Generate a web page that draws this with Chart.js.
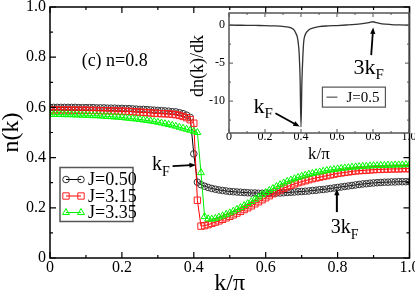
<!DOCTYPE html>
<html>
<head>
<meta charset="utf-8">
<script src="https://cdn.jsdelivr.net/npm/chart.js@4.4.1/dist/chart.umd.min.js"></script>
<style>
  html, body { margin: 0; padding: 0; background: #fff; }
  #wrap { position: relative; width: 415px; height: 296px; }
  #main { position: absolute; left: 0; top: 0; }
  #inset { position: absolute; left: 185px; top: 0; }
</style>
</head>
<body>
<div id="wrap">
  <canvas id="main" width="415" height="296"></canvas>
  <canvas id="inset" width="230" height="165"></canvas>
</div>
<script>
// k/pi grid of the main panel
const kValues = [
  0.00, 0.01, 0.02, 0.03, 0.04, 0.05, 0.06, 0.07, 0.08, 0.09,
  0.10, 0.11, 0.12, 0.13, 0.14, 0.15, 0.16, 0.17, 0.18, 0.19,
  0.20, 0.21, 0.22, 0.23, 0.24, 0.25, 0.26, 0.27, 0.28, 0.29,
  0.30, 0.31, 0.32, 0.33, 0.34, 0.35, 0.36, 0.37, 0.38, 0.39,
  0.40, 0.41, 0.42, 0.43, 0.44, 0.45, 0.46, 0.47, 0.48, 0.49,
  0.50, 0.51, 0.52, 0.53, 0.54, 0.55, 0.56, 0.57, 0.58, 0.59,
  0.60, 0.61, 0.62, 0.63, 0.64, 0.65, 0.66, 0.67, 0.68, 0.69,
  0.70, 0.71, 0.72, 0.73, 0.74, 0.75, 0.76, 0.77, 0.78, 0.79,
  0.80, 0.81, 0.82, 0.83, 0.84, 0.85, 0.86, 0.87, 0.88, 0.89,
  0.90, 0.91, 0.92, 0.93, 0.94, 0.95, 0.96, 0.97, 0.98, 0.99,
  1.00
];

// n(k), J=0.50
const nJ050 = [
  0.600, 0.600, 0.600, 0.600, 0.600, 0.600, 0.600, 0.600, 0.599, 0.599,
  0.599, 0.599, 0.599, 0.598, 0.598, 0.598, 0.597, 0.597, 0.597, 0.596,
  0.596, 0.595, 0.595, 0.594, 0.593, 0.592, 0.592, 0.591, 0.590, 0.589,
  0.588, 0.587, 0.586, 0.585, 0.583, 0.582, 0.579, 0.575, 0.569, 0.560,
  0.415, 0.302, 0.292, 0.286, 0.281, 0.277, 0.274, 0.271, 0.269, 0.267,
  0.265, 0.264, 0.263, 0.262, 0.261, 0.260, 0.259, 0.259, 0.258, 0.258,
  0.258, 0.258, 0.258, 0.259, 0.259, 0.260, 0.261, 0.262, 0.263, 0.264,
  0.265, 0.266, 0.267, 0.269, 0.270, 0.272, 0.273, 0.275, 0.277, 0.279,
  0.281, 0.283, 0.285, 0.287, 0.289, 0.291, 0.293, 0.295, 0.296, 0.298,
  0.299, 0.300, 0.301, 0.302, 0.302, 0.303, 0.303, 0.304, 0.304, 0.304,
  0.304
];

// n(k), J=3.15
const nJ315 = [
  0.590, 0.590, 0.590, 0.590, 0.590, 0.590, 0.589, 0.589, 0.589, 0.589,
  0.589, 0.588, 0.588, 0.588, 0.587, 0.587, 0.587, 0.586, 0.586, 0.585,
  0.585, 0.584, 0.584, 0.583, 0.582, 0.581, 0.580, 0.579, 0.578, 0.577,
  0.576, 0.575, 0.575, 0.574, 0.573, 0.571, 0.568, 0.564, 0.559, 0.551,
  0.537, 0.230, 0.127, 0.129, 0.133, 0.138, 0.143, 0.148, 0.154, 0.160,
  0.166, 0.172, 0.179, 0.186, 0.193, 0.200, 0.208, 0.216, 0.224, 0.232,
  0.240, 0.248, 0.256, 0.264, 0.271, 0.278, 0.284, 0.290, 0.295, 0.300,
  0.304, 0.308, 0.312, 0.316, 0.319, 0.322, 0.325, 0.328, 0.331, 0.334,
  0.337, 0.339, 0.341, 0.343, 0.345, 0.347, 0.348, 0.349, 0.350, 0.351,
  0.352, 0.353, 0.353, 0.354, 0.354, 0.355, 0.355, 0.355, 0.356, 0.356,
  0.356
];

// n(k), J=3.35
const nJ335 = [
  0.572, 0.572, 0.572, 0.572, 0.571, 0.571, 0.571, 0.570, 0.570, 0.569,
  0.569, 0.568, 0.567, 0.567, 0.566, 0.565, 0.564, 0.563, 0.562, 0.561,
  0.560, 0.558, 0.557, 0.555, 0.554, 0.552, 0.550, 0.548, 0.546, 0.544,
  0.541, 0.538, 0.535, 0.532, 0.529, 0.525, 0.521, 0.517, 0.513, 0.509,
  0.505, 0.500, 0.340, 0.165, 0.156, 0.155, 0.158, 0.163, 0.168, 0.174,
  0.180, 0.187, 0.194, 0.201, 0.209, 0.217, 0.225, 0.234, 0.243, 0.252,
  0.261, 0.269, 0.277, 0.285, 0.292, 0.299, 0.305, 0.311, 0.316, 0.321,
  0.326, 0.330, 0.334, 0.337, 0.340, 0.343, 0.346, 0.349, 0.351, 0.353,
  0.355, 0.357, 0.359, 0.360, 0.362, 0.363, 0.364, 0.365, 0.366, 0.367,
  0.368, 0.368, 0.369, 0.369, 0.370, 0.370, 0.371, 0.371, 0.371, 0.372,
  0.372
];

const seriesLabels = ['J=0.50', 'J=3.15', 'J=3.35'];
const mainTicks = [0, 0.2, 0.4, 0.6, 0.8, 1];
const mainMinor = [0.1, 0.3, 0.5, 0.7, 0.9];

// inset: dn(k)/dk for J=0.5
const insetK = [
  0, 0.05, 0.1, 0.15, 0.2, 0.25, 0.3, 0.33, 0.35, 0.36,
  0.37, 0.38, 0.385, 0.39, 0.395, 0.4, 0.405, 0.41, 0.415, 0.42,
  0.43, 0.44, 0.45, 0.47, 0.5, 0.55, 0.6, 0.65, 0.7, 0.75,
  0.78, 0.8, 0.82, 0.85, 0.9, 0.95, 1.0
];
const insetDnDk = [
  0, -0.01, -0.02, -0.04, -0.06, -0.1, -0.17, -0.26, -0.42, -0.6,
  -1.0, -1.6, -2.4, -3.8, -7.0, -13.4, -7.5, -4.3, -2.2, -1.5,
  -0.95, -0.7, -0.5, -0.35, -0.2, -0.1, -0.05, 0.02, 0.1, 0.22,
  0.35, 0.45, 0.32, 0.18, 0.08, 0.03, 0.0
];
const insetLabel = 'J=0.5';
const insetXTicks = [0, 0.2, 0.4, 0.6, 0.8, 1];
const insetXMinor = [0.1, 0.3, 0.5, 0.7, 0.9];
const insetYTicks = [-10, -5, 0];
const insetYMinor = [-12.5, -7.5, -2.5];

const FONT = "'Liberation Serif', 'Times New Roman', serif";

function subText(ctx, base, sub, x, y, size, subSize, drop) {
  ctx.font = size + 'px ' + FONT;
  ctx.textAlign = 'left';
  ctx.textBaseline = 'alphabetic';
  ctx.fillText(base, x, y);
  const w = ctx.measureText(base).width;
  ctx.font = subSize + 'px ' + FONT;
  ctx.fillText(sub, x + w, y + drop);
}

function arrow(ctx, x1, y1, x2, y2, width, head) {
  const ang = Math.atan2(y2 - y1, x2 - x1);
  ctx.lineWidth = width;
  ctx.beginPath();
  ctx.moveTo(x1, y1);
  ctx.lineTo(x2 - Math.cos(ang) * head * 0.7, y2 - Math.sin(ang) * head * 0.7);
  ctx.stroke();
  ctx.beginPath();
  ctx.moveTo(x2, y2);
  ctx.lineTo(x2 - head * Math.cos(ang - 0.38), y2 - head * Math.sin(ang - 0.38));
  ctx.lineTo(x2 - head * Math.cos(ang + 0.38), y2 - head * Math.sin(ang + 0.38));
  ctx.closePath();
  ctx.fill();
}

// box frame with inward ticks on all four sides
const frameTicks = {
  id: 'frameTicks',
  beforeDatasetsDraw(chart, args, o) {
    if (!o.fill) return;
    const a = chart.chartArea;
    chart.ctx.save();
    chart.ctx.fillStyle = o.fill;
    chart.ctx.fillRect(a.left, a.top, a.right - a.left, a.bottom - a.top);
    chart.ctx.restore();
  },
  afterDraw(chart, args, o) {
    const { ctx, chartArea: a, scales: { x, y } } = chart;
    ctx.save();
    ctx.strokeStyle = o.color;
    ctx.lineWidth = o.tickWidth;
    const xt = (v, len) => {
      const p = x.getPixelForValue(v);
      ctx.beginPath();
      ctx.moveTo(p, a.bottom); ctx.lineTo(p, a.bottom - len);
      ctx.moveTo(p, a.top); ctx.lineTo(p, a.top + len);
      ctx.stroke();
    };
    const yt = (v, len) => {
      const p = y.getPixelForValue(v);
      ctx.beginPath();
      ctx.moveTo(a.left, p); ctx.lineTo(a.left + len, p);
      ctx.moveTo(a.right, p); ctx.lineTo(a.right - len, p);
      ctx.stroke();
    };
    o.xMajor.forEach(v => xt(v, o.major));
    o.xMinor.forEach(v => xt(v, o.minor));
    o.yMajor.forEach(v => yt(v, o.major));
    o.yMinor.forEach(v => yt(v, o.minor));
    ctx.lineWidth = o.width;
    ctx.strokeRect(a.left, a.top, a.right - a.left, a.bottom - a.top);
    ctx.restore();
  }
};

// texts, arrows and legend of the main panel
const mainNotes = {
  id: 'mainNotes',
  afterDraw(chart) {
    const { ctx, chartArea: a, scales: { x, y } } = chart;
    ctx.save();
    ctx.fillStyle = '#000';
    ctx.strokeStyle = '#000';

    ctx.font = '18px ' + FONT;
    ctx.textAlign = 'left';
    ctx.textBaseline = 'alphabetic';
    ctx.fillText('(c) n=0.8', x.getPixelForValue(0.088), y.getPixelForValue(0.765));

    subText(ctx, 'k', 'F', x.getPixelForValue(0.284), y.getPixelForValue(0.349), 20, 14, 6);
    arrow(ctx, x.getPixelForValue(0.341), y.getPixelForValue(0.366),
      x.getPixelForValue(0.406), y.getPixelForValue(0.371), 1.6, 7);

    subText(ctx, '3k', 'F', x.getPixelForValue(0.781), y.getPixelForValue(0.1), 20, 14, 6);
    arrow(ctx, x.getPixelForValue(0.798), y.getPixelForValue(0.183),
      x.getPixelForValue(0.798), y.getPixelForValue(0.276), 2, 7);

    // legend
    const lx = a.left + 10, ly = a.top + 160.5, lw = 73, lh = 54;
    ctx.fillStyle = '#fff';
    ctx.fillRect(lx, ly, lw, lh);
    ctx.strokeStyle = '#555';
    ctx.lineWidth = 1.5;
    ctx.strokeRect(lx, ly, lw, lh);
    chart.data.datasets.forEach((ds, i) => {
      const cy = ly + 12 + i * 16.5;
      ctx.strokeStyle = ds.borderColor;
      ctx.lineWidth = 1;
      ctx.beginPath();
      ctx.moveTo(lx + 6, cy); ctx.lineTo(lx + 21, cy);
      ctx.stroke();
      ctx.strokeStyle = ds.pointBorderColor;
      ctx.fillStyle = 'rgba(0,0,0,0)';
      const po = { pointStyle: ds.pointStyle, radius: ds.pointRadius, rotation: 0, borderWidth: 1 };
      Chart.helpers.drawPoint(ctx, po, lx + 6, cy);
      Chart.helpers.drawPoint(ctx, po, lx + 21, cy);
      ctx.fillStyle = '#000';
      ctx.font = '18px ' + FONT;
      ctx.textBaseline = 'middle';
      ctx.fillText(ds.label, lx + 28, cy + 1);
    });
    ctx.restore();
  }
};

// texts, arrows, legend and y title of the inset
const insetNotes = {
  id: 'insetNotes',
  afterDraw(chart) {
    const { ctx, scales: { x, y } } = chart;
    ctx.save();
    ctx.fillStyle = '#000';
    ctx.strokeStyle = '#000';

    ctx.translate(13, 66);
    ctx.rotate(-Math.PI / 2);
    ctx.font = '18px ' + FONT;
    ctx.textAlign = 'center';
    ctx.textBaseline = 'middle';
    ctx.fillText('dn(k)/dk', 0, 0);
    ctx.setTransform(1, 0, 0, 1, 0, 0);

    subText(ctx, 'k', 'F', x.getPixelForValue(0.136), y.getPixelForValue(-11.6), 22, 15, 5);
    arrow(ctx, x.getPixelForValue(0.258), y.getPixelForValue(-11.6),
      x.getPixelForValue(0.393), y.getPixelForValue(-13.35), 1.8, 7);

    subText(ctx, '3k', 'F', x.getPixelForValue(0.692), y.getPixelForValue(-6.45), 22, 15, 5);
    arrow(ctx, x.getPixelForValue(0.79), y.getPixelForValue(-3.95),
      x.getPixelForValue(0.801), y.getPixelForValue(-0.3), 1.8, 7);

    // legend
    const bx = x.getPixelForValue(0.519), by = y.getPixelForValue(-8.16);
    const bw = 63, bh = 20;
    ctx.fillStyle = '#fff';
    ctx.fillRect(bx, by, bw, bh);
    ctx.strokeStyle = '#555';
    ctx.lineWidth = 1.2;
    ctx.strokeRect(bx, by, bw, bh);
    const ds = chart.data.datasets[0];
    ctx.strokeStyle = ds.borderColor;
    ctx.lineWidth = 1;
    ctx.beginPath();
    ctx.moveTo(bx + 4, by + bh / 2); ctx.lineTo(bx + 15, by + bh / 2);
    ctx.stroke();
    ctx.fillStyle = '#000';
    ctx.font = '15px ' + FONT;
    ctx.textAlign = 'left';
    ctx.textBaseline = 'middle';
    ctx.fillText(ds.label, bx + 24, by + bh / 2 + 1);
    ctx.restore();
  }
};

const mainChart = new Chart(document.getElementById('main'), {
  type: 'line',
  data: {
    datasets: [
      {
        label: seriesLabels[0],
        data: kValues.map((k, i) => ({ x: k, y: nJ050[i] })),
        borderColor: '#000',
        borderWidth: 1,
        pointStyle: 'circle',
        pointRadius: 3.3,
        pointBorderWidth: 1,
        pointBorderColor: '#333',
        pointBackgroundColor: 'rgba(0,0,0,0)',
        order: 3
      },
      {
        label: seriesLabels[1],
        data: kValues.map((k, i) => ({ x: k, y: nJ315[i] })),
        borderColor: '#ff0000',
        borderWidth: 1,
        pointStyle: 'rect',
        pointRadius: 4.5,
        pointBorderWidth: 1,
        pointBorderColor: '#ff2020',
        pointBackgroundColor: 'rgba(0,0,0,0)',
        order: 2
      },
      {
        label: seriesLabels[2],
        data: kValues.map((k, i) => ({ x: k, y: nJ335[i] })),
        borderColor: '#00ee00',
        borderWidth: 1,
        pointStyle: 'triangle',
        pointRadius: 4,
        pointBorderWidth: 1,
        pointBorderColor: '#00ff00',
        pointBackgroundColor: 'rgba(0,0,0,0)',
        order: 1
      }
    ]
  },
  options: {
    responsive: false,
    animation: false,
    devicePixelRatio: 1,
    events: [],
    layout: { padding: { top: 7, right: 3, left: 0, bottom: 0 } },
    plugins: {
      legend: { display: false },
      tooltip: { enabled: false },
      frameTicks: {
        color: '#000', width: 1.5, tickWidth: 1.2, major: 6, minor: 3,
        xMajor: mainTicks, xMinor: mainMinor, yMajor: mainTicks, yMinor: mainMinor
      }
    },
    scales: {
      x: {
        type: 'linear', min: 0, max: 1,
        grid: { display: false, drawTicks: false },
        border: { display: false },
        ticks: { color: '#000', font: { family: FONT, size: 16 }, padding: 0, maxRotation: 0, autoSkip: false },
        afterBuildTicks: s => { s.ticks = mainTicks.map(v => ({ value: v })); },
        afterFit: s => { s.height = 38; s.paddingLeft = 0; s.paddingRight = 0; },
        title: { display: true, text: 'k/π', color: '#000', font: { family: FONT, size: 24, lineHeight: 1 }, padding: 0 }
      },
      y: {
        type: 'linear', min: 0, max: 1,
        grid: { display: false, drawTicks: false },
        border: { display: false },
        ticks: { color: '#000', font: { family: FONT, size: 16 }, padding: 4, autoSkip: false },
        afterBuildTicks: s => { s.ticks = mainTicks.map(v => ({ value: v })); },
        afterFit: s => { s.width = 50; s.paddingTop = 0; s.paddingBottom = 0; },
        title: { display: true, text: 'n(k)', color: '#000', font: { family: FONT, size: 24, lineHeight: 1 }, padding: 0 }
      }
    }
  },
  plugins: [frameTicks, mainNotes]
});

const insetChart = new Chart(document.getElementById('inset'), {
  type: 'line',
  data: {
    datasets: [{
      label: insetLabel,
      data: insetK.map((k, i) => ({ x: k, y: insetDnDk[i] })),
      borderColor: '#333',
      borderWidth: 1.3,
      pointRadius: 0,
      cubicInterpolationMode: 'monotone'
    }]
  },
  options: {
    responsive: false,
    animation: false,
    devicePixelRatio: 1,
    events: [],
    layout: { padding: { top: 13, right: 6, left: 0, bottom: 0 } },
    plugins: {
      legend: { display: false },
      tooltip: { enabled: false },
      frameTicks: {
        fill: '#fff', color: '#555', width: 1.5, tickWidth: 1, major: 4, minor: 2,
        xMajor: insetXTicks, xMinor: insetXMinor, yMajor: insetYTicks, yMinor: insetYMinor
      }
    },
    scales: {
      x: {
        type: 'linear', min: 0, max: 1,
        grid: { display: false, drawTicks: false },
        border: { display: false },
        ticks: { color: '#000', font: { family: FONT, size: 12 }, padding: -3, maxRotation: 0, autoSkip: false },
        afterBuildTicks: s => { s.ticks = insetXTicks.map(v => ({ value: v })); },
        afterFit: s => { s.height = 32; s.paddingLeft = 0; s.paddingRight = 0; },
        title: { display: true, text: 'k/π', color: '#000', font: { family: FONT, size: 17, lineHeight: 1 }, padding: { top: 0, bottom: 1.5 } }
      },
      y: {
        type: 'linear', min: -14.2, max: 1.6,
        grid: { display: false, drawTicks: false },
        border: { display: false },
        ticks: { color: '#000', font: { family: FONT, size: 12 }, padding: 4, autoSkip: false },
        afterBuildTicks: s => { s.ticks = insetYTicks.map(v => ({ value: v })); },
        afterFit: s => { s.width = 44; s.paddingTop = 0; s.paddingBottom = 0; }
      }
    }
  },
  plugins: [frameTicks, insetNotes]
});
</script>
</body>
</html>
